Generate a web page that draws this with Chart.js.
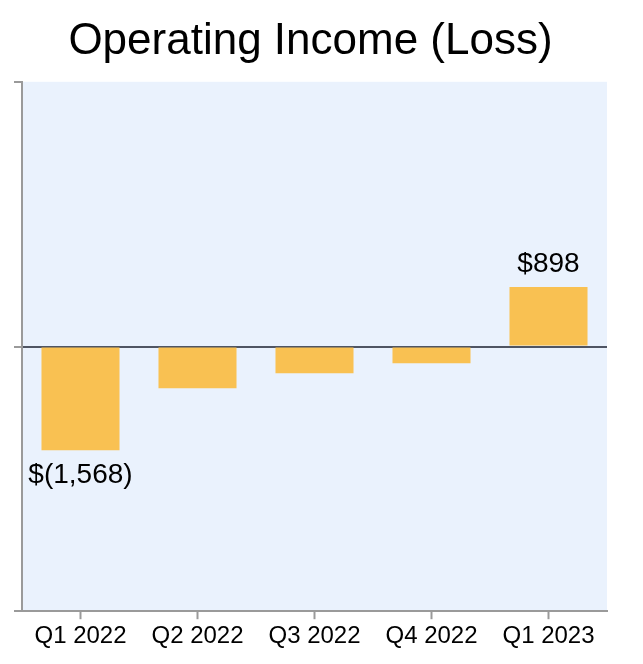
<!DOCTYPE html>
<html>
<head>
<meta charset="utf-8">
<script src="https://cdn.jsdelivr.net/npm/chart.js@4/dist/chart.umd.min.js"></script>
<style>
  html, body { margin: 0; padding: 0; background: #ffffff; }
  #wrap { position: absolute; left: 0; top: 0; width: 615px; height: 664px; }
</style>
</head>
<body>
<div id="wrap"><canvas id="c"></canvas></div>
<script>
const categories = ['Q1 2022', 'Q2 2022', 'Q3 2022', 'Q4 2022', 'Q1 2023'];
const operatingIncome = [-1568, -630, -405, -255, 898];
const valueLabels = ['$(1,568)', '', '', '', '$898'];
const titleText = 'Operating Income (Loss)';

const FONT = "'Liberation Sans', Arial, sans-serif";

const plotBackground = {
  id: 'plotBackground',
  beforeDraw(chart) {
    const { ctx, chartArea: a } = chart;
    ctx.save();
    ctx.fillStyle = '#EAF2FD';
    ctx.fillRect(a.left, a.top, a.right - a.left, a.bottom - a.top);
    ctx.restore();
  }
};

const barLabels = {
  id: 'barLabels',
  afterDatasetsDraw(chart) {
    const { ctx } = chart;
    const meta = chart.getDatasetMeta(0);
    ctx.save();
    ctx.font = '28px ' + FONT;
    ctx.fillStyle = '#000000';
    ctx.textAlign = 'center';
    ctx.textBaseline = 'middle';
    meta.data.forEach((bar, i) => {
      const txt = valueLabels[i];
      if (!txt) return;
      const v = operatingIncome[i];
      const y = v >= 0 ? bar.y - 23 : bar.y + 25;
      ctx.fillText(txt, bar.x, y);
    });
    ctx.restore();
  }
};

new Chart(document.getElementById('c'), {
  type: 'bar',
  data: {
    labels: categories,
    datasets: [{
      data: operatingIncome,
      backgroundColor: '#F9C152',
      borderWidth: 0,
      categoryPercentage: 1.0,
      barPercentage: 0.667
    }]
  },
  options: {
    responsive: true,
    maintainAspectRatio: false,
    animation: false,
    layout: { padding: { left: 14, right: 8, top: 0, bottom: 10 } },
    plugins: {
      legend: { display: false },
      tooltip: { enabled: false },
      title: {
        display: true,
        text: titleText,
        color: '#000000',
        font: { family: FONT, size: 44, weight: 'normal' },
        padding: { top: 15, bottom: 14 }
      }
    },
    scales: {
      x: {
        offset: true,
        grid: {
          display: true,
          drawOnChartArea: false,
          drawTicks: true,
          tickLength: 8,
          tickColor: '#9a9a9a',
          tickWidth: 2,
          offset: false
        },
        border: { display: true, color: '#9a9a9a', width: 2 },
        ticks: {
          color: '#000000',
          font: { family: FONT, size: 24 },
          padding: 3,
          maxRotation: 0,
          autoSkip: false
        }
      },
      y: {
        min: -4000,
        max: 4000,
        grid: {
          display: true,
          drawOnChartArea: true,
          drawTicks: true,
          tickLength: 8,
          tickColor: '#9a9a9a',
          tickWidth: 2,
          color: (c) => (c.tick && c.tick.value === 0) ? '#4f5563' : 'rgba(0,0,0,0)',
          lineWidth: (c) => (c.tick && c.tick.value === 0) ? 2 : 0
        },
        border: { display: true, color: '#9a9a9a', width: 2 },
        ticks: { display: false, stepSize: 4000 }
      }
    }
  },
  plugins: [plotBackground, barLabels]
});
</script>
</body>
</html>
